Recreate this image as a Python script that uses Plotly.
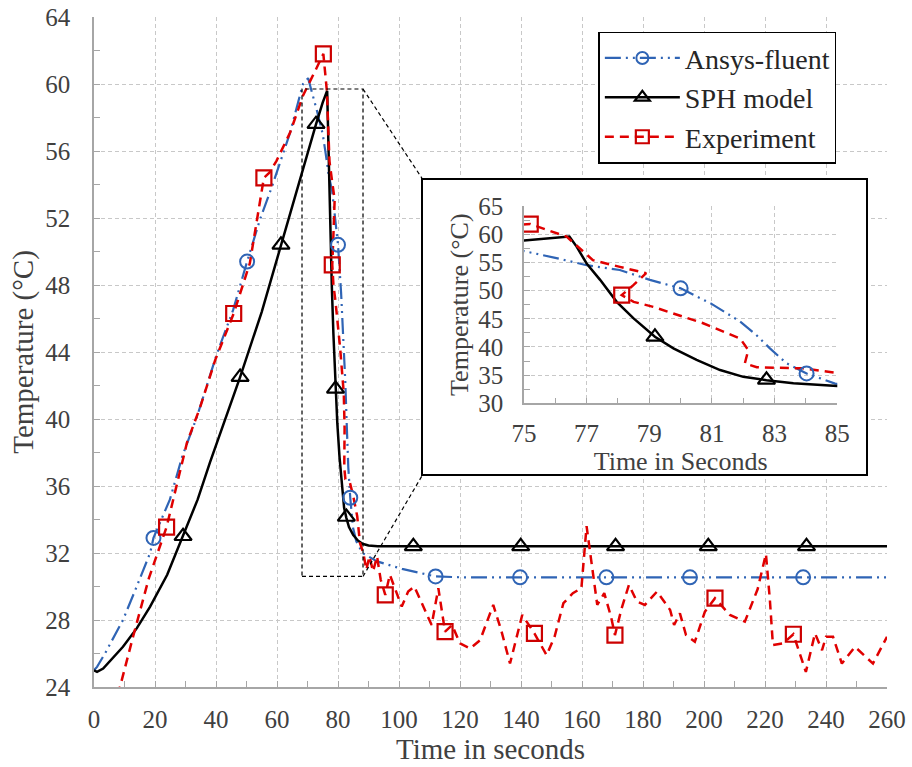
import plotly.graph_objects as go

# ---------------- data ----------------
# SPH model (black solid)
sph_t = [0, 1, 3, 6, 9.5, 14, 18.4, 24, 29.2, 34, 38, 43, 47.9, 55, 61.3, 67, 72.8, 75, 76.45, 76.68,
         77.0, 77.43, 77.96, 78.49, 79.18, 79.77, 80.51, 81.26, 82.0, 82.74, 83.6, 85, 86.5, 88, 90, 93, 100, 260]
sph_T = [25.0, 24.9, 25.1, 25.7, 26.4, 27.5, 28.8, 30.7, 33.0, 35.2, 37.4, 40.0, 42.5, 46.4, 50.4, 54.0, 57.6, 58.9, 59.6, 57.8,
         54.8, 51.9, 48.0, 45.1, 41.8, 39.75, 37.7, 35.9, 34.7, 34.1, 33.55, 33.07, 32.75, 32.55, 32.45, 32.4, 32.4, 32.4]
sph_mark_t = [29.2, 47.9, 61.3, 72.8, 79.18, 82.74, 104.7, 139.9, 171.0, 201.4, 233.6]
sph_mark_T = [33.0, 42.5, 50.4, 57.6, 41.8, 34.15, 32.4, 32.4, 32.4, 32.4, 32.4]

# Ansys-fluent (blue dash-dot-dot)
ans_t = [0, 1, 3.6, 9.5, 14, 18.4, 19.5, 24.9, 29, 33.7, 40.3, 45.6, 50.2, 54.4, 58.4, 61, 64.3, 68.5, 70.2, 73.1,
         75, 76, 77, 78.06, 79.02, 80.0, 81.0, 81.9, 82.4, 82.85, 83.38, 84.02, 84.93, 86, 88, 92.8, 101, 112, 120, 260]
ans_T = [25.0, 25.2, 26.0, 28.0, 30.0, 32.0, 32.9, 35.2, 37.8, 40.1, 43.9, 46.5, 49.4, 51.9, 53.9, 55.3, 57.1, 60.0, 60.35, 58.4,
         57.0, 55.8, 54.5, 53.65, 51.9, 50.4, 47.6, 44.5, 42.2, 39.75, 37.1, 35.3, 33.5, 32.7, 32.0, 31.5, 31.05, 30.6, 30.55, 30.55]
ans_mark_t = [19.5, 50.2, 80.0, 84.02, 112.0, 139.7, 168.0, 195.4, 232.5]
ans_mark_T = [32.9, 49.4, 50.4, 35.3, 30.6, 30.55, 30.55, 30.55, 30.55]

# Experiment (red dashed)
exp_t = [7.8, 8.5, 12.8, 18, 23.8, 30.5, 34.8, 39.7, 45.8, 51.1, 55.7, 57.5, 59.8, 64.3, 68.5, 73.1, 75.2, 76.36, 77.2, 78.06,
         78.9, 78.5, 78.12, 78.5, 79.13, 80.72, 81.9, 82.16, 82.05, 82.43, 83.9, 85, 86.3, 87.2, 88.3, 89.3, 90.3, 91.5, 92.8, 94,
         95.5, 97, 98.5, 100.9, 103, 105, 107.5, 110.7, 112.9, 115.1, 117.4, 120, 123.3, 126.6, 130.9, 133.5, 136.4, 138.5, 140.4, 144.4,
         148.4, 151, 153.9, 157, 159.8, 161.5, 163.5, 165.0, 167.3, 169.5, 170.8, 173, 175.4, 178, 180.6, 184.6, 188.9, 190.2, 192.1, 194.1,
         197, 200.3, 203.6, 208.5, 213.4, 217.6, 220.3, 221.6, 222.6, 225.9, 229.3, 233.4, 236.4, 238.7, 240, 242.3, 245.2, 249.5, 255.4, 259.3, 260]
exp_T = [23.5, 24.0, 27.0, 30.5, 33.55, 38.6, 40.7, 43.5, 46.3, 49.3, 54.4, 54.7, 55.4, 57.1, 59.3, 61.0, 61.8, 59.56, 55.4, 54.2,
         53.1, 51.0, 49.2, 48.0, 47.1, 44.2, 41.5, 39.45, 37.1, 36.4, 36.2, 35.4, 34.2, 32.6, 32.0, 31.0, 31.8, 30.9, 31.8, 30.4,
         29.5, 30.7, 30.0, 28.8, 29.7, 30.0, 29.0, 27.7, 29.9, 27.3, 27.7, 26.6, 26.3, 26.8, 28.9, 27.4, 25.4, 26.9, 28.3, 27.2,
         25.9, 27.0, 29.0, 29.6, 29.9, 33.6, 30.8, 28.9, 29.6, 28.2, 27.1, 28.7, 30.1, 29.1, 28.9, 29.7, 28.6, 27.7, 28.4, 27.1,
         26.7, 28.5, 29.3, 28.3, 27.9, 29.85, 31.95, 29.2, 26.5, 26.6, 27.15, 24.9, 27.2, 26.2, 27.0, 27.0, 25.4, 26.4, 25.4, 26.8, 27.0]
exp_mark_t = [23.8, 45.8, 55.7, 75.2, 78.12, 95.5, 115.1, 144.4, 170.8, 203.6, 229.3]
exp_mark_T = [33.55, 46.3, 54.4, 61.8, 49.2, 29.5, 27.3, 27.2, 27.1, 29.3, 27.15]

# axis settings
main_x_range = [0, 260]
main_y_range = [24, 64]
inset_x_range = [75, 85]
inset_y_range = [30, 65]
zoom_box_t = [68.2, 88.2]      # dashed zoom window (time)
zoom_box_T = [30.6, 59.7]      # dashed zoom window (temperature)
connector_end_t = 107.9
connector_end_T = [54.27, 36.72]

# ---------------- styling ----------------
FONT = "Liberation Serif, Times New Roman, serif"
AX = "#A6A6A6"
GRID = "#C8C8C8"
TXT = "#404040"
BLUE = "#2F64B5"
RED = "#E00000"
RED_M = "#CC0000"
BLACK = "#000000"

series = [
    dict(name="Ansys-fluent", t=ans_t, T=ans_T, mt=ans_mark_t, mT=ans_mark_T, color=BLUE, mcolor=BLUE,
         width=2.2, dash="16px,5px,2px,5px,2px,5px", symbol="circle-open", msize=14, mlw=2),
    dict(name="SPH model", t=sph_t, T=sph_T, mt=sph_mark_t, mT=sph_mark_T, color=BLACK, mcolor=BLACK,
         width=2.5, dash="solid", symbol="triangle-up-open", msize=15, mlw=2.2),
    dict(name="Experiment", t=exp_t, T=exp_T, mt=exp_mark_t, mT=exp_mark_T, color=RED, mcolor=RED_M,
         width=2.5, dash="9px,6px", symbol="square-open", msize=15, mlw=2.2),
]

fig = go.Figure()

# legend entries
for s in series:
    fig.add_trace(go.Scatter(x=[None], y=[None], mode="lines+markers", name=s["name"],
                             line=dict(color=s["color"], width=s["width"], dash=s["dash"]),
                             marker=dict(symbol=s["symbol"], size=s["msize"] - 2, color=s["mcolor"],
                                         line=dict(width=s["mlw"], color=s["mcolor"])),
                             xaxis="x", yaxis="y", showlegend=True))

# main curves
for s in series:
    fig.add_trace(go.Scatter(x=s["t"], y=s["T"], mode="lines", showlegend=False, hoverinfo="skip",
                             line=dict(color=s["color"], width=s["width"], dash=s["dash"]),
                             xaxis="x", yaxis="y"))
for s in series:
    fig.add_trace(go.Scatter(x=s["mt"], y=s["mT"], mode="markers", showlegend=False,
                             marker=dict(symbol=s["symbol"], size=s["msize"], color=s["mcolor"],
                                         line=dict(width=s["mlw"], color=s["mcolor"])),
                             xaxis="x", yaxis="y"))

# inset frame subplot (x2/y2)
fig.add_trace(go.Scatter(x=[None], y=[None], xaxis="x2", yaxis="y2", showlegend=False))

# inset curves (x3/y3)
for s in series:
    fig.add_trace(go.Scatter(x=s["t"], y=s["T"], mode="lines", showlegend=False,
                             line=dict(color=s["color"], width=s["width"], dash=s["dash"]),
                             xaxis="x3", yaxis="y3"))
for s in series:
    fig.add_trace(go.Scatter(x=s["mt"], y=s["mT"], mode="markers", showlegend=False,
                             marker=dict(symbol=s["symbol"], size=s["msize"], color=s["mcolor"],
                                         line=dict(width=s["mlw"], color=s["mcolor"])),
                             xaxis="x3", yaxis="y3"))

def std_axis(**kw):
    d = dict(showline=True, linecolor=AX, linewidth=1.5, ticks="inside", ticklen=6, tickcolor=AX,
             tickwidth=1.2, showgrid=True, gridcolor=GRID, griddash="4px,3px", gridwidth=1,
             zeroline=False, automargin=False, ticklabeloverflow="allow",
             tickfont=dict(family=FONT, size=25, color=TXT))
    d.update(kw)
    return d

# geometry (paper fractions)
inset_dom_x = [0.5422, 0.9373]
inset_dom_y = [0.4234, 0.7179]
frame_dom_x = [0.4149, 0.9735]
frame_dom_y = [0.3179, 0.7567]

fig.update_layout(
    width=912, height=767,
    margin=dict(l=94, r=25, t=17, b=80, autoexpand=False),
    paper_bgcolor="white", plot_bgcolor="white",
    font=dict(family=FONT, size=25, color=TXT),
    xaxis=std_axis(domain=[0, 1], range=main_x_range, tick0=0, dtick=20, anchor="y",
                   minor=dict(dtick=10, ticks="inside", ticklen=6, tickcolor=AX, showgrid=False),
                   ticklabelstandoff=9,
                   title=dict(text="Time in seconds", font=dict(family=FONT, size=29, color=TXT), standoff=0)),
    yaxis=std_axis(domain=[0, 1], range=main_y_range, tick0=24, dtick=4, anchor="x",
                   minor=dict(dtick=2, ticks="inside", ticklen=6, tickcolor=AX, showgrid=False),
                   ticklabelstandoff=17,
                   title=dict(text="Temperature (°C)", font=dict(family=FONT, size=29, color=TXT), standoff=3)),
    xaxis2=dict(domain=frame_dom_x, range=[0, 1], anchor="y2", showline=True, mirror=True,
                linecolor="black", linewidth=1.5, showgrid=False, zeroline=False, showticklabels=False,
                ticks="", fixedrange=True),
    yaxis2=dict(domain=frame_dom_y, range=[0, 1], anchor="x2", showline=True, mirror=True,
                linecolor="black", linewidth=1.5, showgrid=False, zeroline=False, showticklabels=False,
                ticks="", fixedrange=True),
    xaxis3=std_axis(domain=inset_dom_x, range=inset_x_range, tick0=75, dtick=2, anchor="y3",
                    minor=dict(dtick=1, ticks="inside", ticklen=6, tickcolor=AX, showgrid=False),
                    ticklabelstandoff=7,
                    title=dict(text="Time in Seconds", font=dict(family=FONT, size=26, color=TXT), standoff=0)),
    yaxis3=std_axis(domain=inset_dom_y, range=inset_y_range, tick0=30, dtick=5, anchor="x3",
                    minor=dict(dtick=2.5, ticks="inside", ticklen=6, tickcolor=AX, showgrid=False),
                    ticklabelstandoff=14,
                    title=dict(text="Temperature (°C)", font=dict(family=FONT, size=26, color=TXT), standoff=2)),
    legend=dict(x=0.636, y=0.978, xanchor="left", yanchor="top", bgcolor="white",
                bordercolor="black", borderwidth=1.5, font=dict(family=FONT, size=28, color="#262626"),
                itemwidth=75, tracegroupgap=0),
    shapes=[
        dict(type="rect", xref="x2", yref="y2", x0=0, x1=1, y0=0, y1=1, fillcolor="white",
             line=dict(width=0), layer="below"),
        dict(type="rect", xref="x", yref="y", x0=zoom_box_t[0], x1=zoom_box_t[1], y0=zoom_box_T[0], y1=zoom_box_T[1],
             line=dict(color="black", width=1.2, dash="4px,3px"), layer="above"),
        dict(type="line", xref="x", yref="y", x0=zoom_box_t[1], y0=zoom_box_T[1], x1=connector_end_t, y1=connector_end_T[0],
             line=dict(color="black", width=1.2, dash="4px,3px"), layer="above"),
        dict(type="line", xref="x", yref="y", x0=zoom_box_t[1], y0=zoom_box_T[0], x1=connector_end_t, y1=connector_end_T[1],
             line=dict(color="black", width=1.2, dash="4px,3px"), layer="above"),
    ],
)

fig.write_html("out.html", config={"displayModeBar": False},
               post_script="document.body.style.margin='0px';")
